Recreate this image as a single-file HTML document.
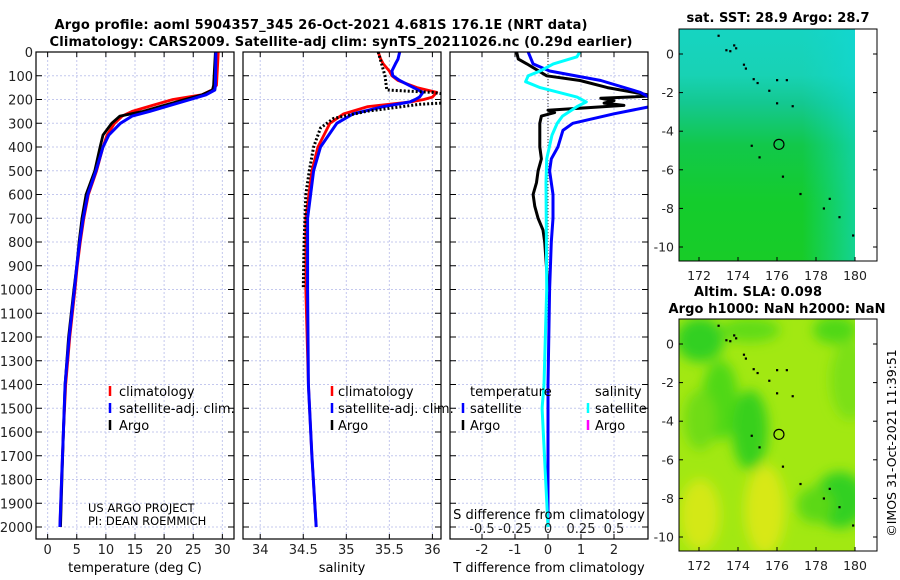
<!DOCTYPE html>
<html><head><meta charset="utf-8"><style>
html,body{margin:0;padding:0;background:#fff}
svg{display:block;font-family:"DejaVu Sans","Liberation Sans",sans-serif}
</style></head><body>
<svg id="fig" width="900" height="580" viewBox="0 0 900 580" xmlns="http://www.w3.org/2000/svg">
<defs>
<linearGradient id="sstg" x1="0" y1="0" x2="0" y2="1">
<stop offset="0" stop-color="#16d4c2"/><stop offset="0.2" stop-color="#18d2b4"/><stop offset="0.32" stop-color="#14c890"/><stop offset="0.5" stop-color="#12c84a"/><stop offset="0.75" stop-color="#14cc2c"/><stop offset="1" stop-color="#18cc28"/>
</linearGradient>
<linearGradient id="sstg2" x1="0" y1="0" x2="1" y2="0">
<stop offset="0" stop-color="#18d0a0" stop-opacity="0"/><stop offset="0.7" stop-color="#10d8d0" stop-opacity="0"/><stop offset="1" stop-color="#10d8d8" stop-opacity="0.6"/>
</linearGradient>
<filter id="blur" x="-0.3" y="-0.3" width="1.6" height="1.6"><feGaussianBlur stdDeviation="6"/></filter>
<clipPath id="m1c"><rect x="679" y="29" width="176" height="232"/></clipPath>
<clipPath id="m2c"><rect x="679" y="319" width="176" height="232"/></clipPath>
<clipPath id="p1c"><rect x="36" y="52" width="198" height="487"/></clipPath>
<clipPath id="p2c"><rect x="243" y="52" width="198" height="487"/></clipPath>
<clipPath id="p3c"><rect x="450" y="52" width="198" height="487"/></clipPath>
</defs>

<text x="321" y="29" font-size="13" font-weight="bold" text-anchor="middle" textLength="533">Argo profile: aoml 5904357_345 26-Oct-2021 4.681S 176.1E (NRT data)</text>
<text x="341" y="46" font-size="13" font-weight="bold" text-anchor="middle" textLength="583">Climatology: CARS2009. Satellite-adj clim: synTS_20211026.nc (0.29d earlier)</text>

<g id="grids"></g>
<g id="series"></g>
<g id="axes"></g>

<!-- legends -->
<g font-size="13">
<line x1="110" y1="386" x2="110" y2="396" stroke="#f00" stroke-width="2.5"/><text x="119" y="396">climatology</text>
<line x1="110" y1="403" x2="110" y2="413" stroke="#00f" stroke-width="2.5"/><text x="119" y="413">satellite-adj. clim.</text>
<line x1="110" y1="420" x2="110" y2="430" stroke="#000" stroke-width="2.5"/><text x="119" y="430">Argo</text>
</g>
<g font-size="13">
<line x1="332" y1="386" x2="332" y2="396" stroke="#f00" stroke-width="2.5"/><text x="338" y="396">climatology</text>
<line x1="332" y1="403" x2="332" y2="413" stroke="#00f" stroke-width="2.5"/><text x="338" y="413">satellite-adj. clim.</text>
<line x1="332" y1="420" x2="332" y2="430" stroke="#000" stroke-width="2.5"/><text x="338" y="430">Argo</text>
</g>
<g font-size="13">
<text x="470" y="396">temperature</text><text x="595" y="396">salinity</text>
<line x1="463" y1="403" x2="463" y2="413" stroke="#00f" stroke-width="2.5"/><text x="470" y="413">satellite</text>
<line x1="463" y1="420" x2="463" y2="430" stroke="#000" stroke-width="2.5"/><text x="470" y="430">Argo</text>
<line x1="588" y1="403" x2="588" y2="413" stroke="#0ff" stroke-width="2.5"/><text x="595" y="413">satellite</text>
<line x1="588" y1="420" x2="588" y2="430" stroke="#f0f" stroke-width="2.5"/><text x="595" y="430">Argo</text>
</g>
<text x="88" y="512" font-size="11.5">US ARGO PROJECT</text>
<text x="88" y="525" font-size="11.5">PI: DEAN ROEMMICH</text>

<text x="135" y="572" font-size="13" text-anchor="middle">temperature (deg C)</text>
<text x="342" y="572" font-size="13" text-anchor="middle">salinity</text>
<text x="549" y="572" font-size="13" text-anchor="middle">T difference from climatology</text>
<text x="549" y="519" font-size="13" text-anchor="middle">S difference from climatology</text>

<!-- Map 1: SST -->
<g>
<rect x="679" y="29" width="176" height="232" fill="url(#sstg)"/>
<rect x="679" y="29" width="176" height="232" fill="url(#sstg2)"/>
<g id="coast1" clip-path="url(#m1c)"></g>
<rect x="679" y="29" width="198" height="232" fill="none" stroke="#000" stroke-width="1"/>
</g>
<text x="778" y="22" font-size="13" font-weight="bold" text-anchor="middle" textLength="183">sat. SST: 28.9 Argo: 28.7</text>

<!-- Map 2: SLA -->
<g>
<rect x="679" y="319" width="176" height="232" fill="#a2e812"/>
<g clip-path="url(#m2c)" filter="url(#blur)">
<ellipse cx="700" cy="340" rx="24" ry="22" fill="#30d020"/>
<ellipse cx="750" cy="330" rx="30" ry="12" fill="#60dc18"/>
<ellipse cx="835" cy="330" rx="22" ry="14" fill="#50d818"/>
<ellipse cx="720" cy="400" rx="18" ry="40" fill="#50d818"/>
<ellipse cx="750" cy="430" rx="18" ry="40" fill="#38d01a"/>
<ellipse cx="700" cy="420" rx="16" ry="30" fill="#70dc14"/>
<ellipse cx="840" cy="500" rx="26" ry="28" fill="#30d020"/>
<ellipse cx="815" cy="505" rx="18" ry="18" fill="#5cd818"/>
<ellipse cx="700" cy="515" rx="20" ry="36" fill="#d4e812"/>
<ellipse cx="765" cy="510" rx="20" ry="45" fill="#d8e812"/>
<ellipse cx="850" cy="380" rx="20" ry="40" fill="#7ce014"/>
</g>
<g id="coast2" clip-path="url(#m2c)"></g>
<rect x="679" y="319" width="198" height="232" fill="none" stroke="#000" stroke-width="1"/>
</g>
<text x="758" y="296" font-size="13" font-weight="bold" text-anchor="middle" textLength="128">Altim. SLA: 0.098</text>
<text x="777" y="313" font-size="13" font-weight="bold" text-anchor="middle" textLength="217">Argo h1000: NaN h2000: NaN</text>
<g id="mapaxes"></g>
<text transform="translate(896,443) rotate(-90)" font-size="12.5" text-anchor="middle">©IMOS 31-Oct-2021 11:39:51</text>
</svg>
<script>
// ---- data ----
const tempDepths = [0,140,160,180,200,225,250,270,300,350,400,500,600,700,800,900,1000,1200,1400,1600,1800,2000];
const tempArgo   = [28.8,28.5,28.3,26.5,23.6,20,16.4,12.4,11,9.5,9,8.1,6.6,5.9,5.4,5,4.5,3.6,3.0,2.7,2.45,2.2];
const tempClim   = [29.3,29.0,28.2,26.5,21.5,18,14.5,12.8,11.5,10.2,9.5,8.4,7.0,6.2,5.6,5.1,4.7,3.8,3.1,2.7,2.4,2.1];
const tempSat    = [28.9,28.8,28.7,27.2,24.5,21,17.5,14.5,12.5,10.5,9.5,8.3,6.9,6.1,5.5,5.0,4.6,3.7,3.0,2.7,2.4,2.1];
const salDepths  = [0,30,50,80,100,120,150,170,190,200,210,230,260,300,400,500,700,1000,1400,1700,2000];
const salClim    = [35.37,35.40,35.43,35.50,35.53,35.60,35.82,36.05,36.0,35.9,35.75,35.25,34.97,34.81,34.67,34.6,34.53,34.53,34.56,34.6,34.65];
const salSat     = [35.62,35.60,35.57,35.53,35.54,35.62,35.78,35.89,35.85,35.80,35.74,35.43,35.08,34.89,34.7,34.62,34.55,34.55,34.56,34.6,34.65];
const argoSalDepths = [0,100,160,170,180,200,215,220,250,280,320,400,500,600,800,990];
const salArgo    = [35.37,35.45,35.47,36.0,36.2,36.2,36.1,35.85,35.23,34.85,34.7,34.62,34.57,34.53,34.51,34.5];
const dtArgoDepths = [0,30,50,100,120,150,165,185,195,205,215,225,245,255,270,300,400,450,500,550,600,650,700,750,800,900,1000];
const dtArgo     = [-0.95,-0.9,-0.64,-0.04,0.97,1.8,2.4,3.2,1.6,2.0,1.7,2.3,0.0,0.2,-0.2,-0.25,-0.25,-0.2,-0.3,-0.35,-0.45,-0.4,-0.3,-0.15,-0.1,-0.05,0.0];
const dtSatDepths = [0,50,80,120,170,200,230,260,300,330,400,450,500,600,700,800,1000,1400,2000];
const dtSat      = [-0.6,-0.45,0.05,1.6,2.8,3.2,3.1,2.0,0.75,0.45,0.3,0.1,0.05,0.15,0.15,0.1,0.05,0.0,0.0];
const dsSatDepths = [0,20,50,80,100,125,150,190,210,230,270,300,350,450,550,1000,1400,1500,2000];
const dsSat      = [0.24,0.22,0.04,-0.06,-0.15,-0.17,-0.06,0.22,0.29,0.22,0.11,0.07,0.03,-0.01,-0.015,-0.01,-0.03,-0.045,0.0];
const depthTicks = [0,100,200,300,400,500,600,700,800,900,1000,1100,1200,1300,1400,1500,1600,1700,1800,1900,2000];
const tempTicks = [0,5,10,15,20,25,30];
const salTicks = [34,34.5,35,35.5,36];
const dtTicks = [-2,-1,0,1,2];
const dsTicks = [-0.5,-0.25,0,0.25,0.5];
const dsTickLabels = ['-0.5','-0.25','0','0.25','0.5'];
const lonTicks = [172,174,176,178,180];
const latTicks = [0,-2,-4,-6,-8,-10];
const profileLon = 176.1, profileLat = -4.681;
const coastLon = [173.0,173.4,173.6,173.8,173.9,174.3,174.4,174.8,175.0,175.6,176.0,176.5,176.0,176.8,174.7,175.1,176.3,177.2,178.4,178.7,179.2,179.9];
const coastLat = [0.95,0.2,0.15,0.45,0.3,-0.55,-0.75,-1.3,-1.5,-1.9,-1.35,-1.35,-2.55,-2.7,-4.75,-5.35,-6.35,-7.25,-8.0,-7.5,-8.45,-9.4];

// ---- scales ----
const yD = d => 52 + d*0.2375;
const xT = t => 36 + (t+2)*198/34;
const xS = s => 243 + (s-33.8)*198/2.3;
const xDT = v => 548 + v*33;
const xDS = v => 548 + v*132;
const mxLon = lon => 699 + (lon-172)*19.5;
const myLat1 = lat => 54 + (-lat)*19.3;
const myLat2 = lat => 344 + (-lat)*19.3;

const NS='http://www.w3.org/2000/svg';
function mk(tag, parent){const e=document.createElementNS(NS,tag);parent.appendChild(e);return e;}
const grids=document.getElementById('grids'), series=document.getElementById('series'), axes=document.getElementById('axes');

const panels=[{x:36,c:'p1c',n:'temperature'},{x:243,c:'p2c',n:'salinity'},{x:450,c:'p3c',n:'difference'}];
// grids & axes
panels.forEach((p,pi)=>{
  const xt = pi===0? tempTicks.map(xT) : pi===1? salTicks.map(xS) : dtTicks.map(xDT);
  xt.forEach(x=>{const l=mk('line',grids);
    
    
    l.setAttribute('x1',x);l.setAttribute('x2',x);l.setAttribute('y1',52);l.setAttribute('y2',539);
    l.setAttribute('stroke','#c4c8ee');l.setAttribute('stroke-dasharray','2,2');l.setAttribute('stroke-width','1');
    const t1=mk('line',axes);t1.setAttribute('x1',x);t1.setAttribute('x2',x);t1.setAttribute('y1',539);t1.setAttribute('y2',534);t1.setAttribute('stroke','#000');
    const t2=mk('line',axes);t2.setAttribute('x1',x);t2.setAttribute('x2',x);t2.setAttribute('y1',52);t2.setAttribute('y2',57);t2.setAttribute('stroke','#000');
  });
  depthTicks.forEach(d=>{const y=yD(d);const l=mk('line',grids);
    
    
    l.setAttribute('x1',p.x);l.setAttribute('x2',p.x+198);l.setAttribute('y1',y);l.setAttribute('y2',y);
    l.setAttribute('stroke','#c4c8ee');l.setAttribute('stroke-dasharray','2,2');
    const t1=mk('line',axes);t1.setAttribute('x1',p.x);t1.setAttribute('x2',p.x+6);t1.setAttribute('y1',y);t1.setAttribute('y2',y);t1.setAttribute('stroke','#000');
    const t2=mk('line',axes);t2.setAttribute('x1',p.x+198);t2.setAttribute('x2',p.x+192);t2.setAttribute('y1',y);t2.setAttribute('y2',y);t2.setAttribute('stroke','#000');
  });
  const r=mk('rect',axes);
  
  
  r.setAttribute('x',p.x);r.setAttribute('y',52);r.setAttribute('width',198);r.setAttribute('height',487);
  r.setAttribute('fill','none');r.setAttribute('stroke','#000');r.setAttribute('stroke-width','1.2');
});
// zero line in diff panel
{const l=mk('line',grids);


l.setAttribute('x1',xDT(0));l.setAttribute('x2',xDT(0));l.setAttribute('y1',52);l.setAttribute('y2',539);l.setAttribute('stroke','#333');l.setAttribute('stroke-dasharray','1,2');}

function label(txt,x,y,anchor,size,parent,name){const t=mk('text',parent||axes);
  
  
  t.setAttribute('x',x);t.setAttribute('y',y);t.setAttribute('text-anchor',anchor);t.setAttribute('font-size',size);t.setAttribute('fill','#222');t.textContent=txt;}
depthTicks.forEach(d=>label(String(d),33,yD(d)+5,'end',13,axes,'depth-tick-label'));
tempTicks.forEach(t=>label(String(t),xT(t),554,'middle',13,axes,'temperature-tick-label'));
salTicks.forEach(s=>label(String(s),xS(s),554,'middle',13,axes,'salinity-tick-label'));
dtTicks.forEach(v=>label(String(v),xDT(v),554,'middle',13,axes,'t-difference-tick-label'));
dsTicks.forEach((v,i)=>label(dsTickLabels[i],xDS(v),533,'middle',13,axes,'s-difference-tick-label'));

function line(xs,ds,fx,color,w,clip,name,dash){
  const pts=xs.map((v,i)=>fx(v).toFixed(1)+','+yD(ds[i]).toFixed(1)).join(' ');
  const pl=mk('polyline',series);
  
  
  pl.setAttribute('points',pts);pl.setAttribute('fill','none');pl.setAttribute('stroke',color);
  pl.setAttribute('stroke-width',w);pl.setAttribute('stroke-linejoin','round');pl.setAttribute('clip-path','url(#'+clip+')');
  if(dash)pl.setAttribute('stroke-dasharray',dash);
}
line(tempClim,tempDepths,xT,'#f00',2.8,'p1c','temperature-climatology-line');
line(tempArgo,tempDepths,xT,'#000',2.8,'p1c','temperature-argo-line');
line(tempSat,tempDepths,xT,'#00f',3,'p1c','temperature-satellite-line');
line(salClim,salDepths,xS,'#f00',2.8,'p2c','salinity-climatology-line');
line(salSat,salDepths,xS,'#00f',3,'p2c','salinity-satellite-line');
line(salArgo,argoSalDepths,xS,'#000',3,'p2c','salinity-argo-line','2,2');
line(dtArgo,dtArgoDepths,xDT,'#000',3,'p3c','t-difference-argo-line');
line(dtSat,dtSatDepths,xDT,'#00f',3,'p3c','t-difference-satellite-line');
line(dsSat,dsSatDepths,xDS,'#0ff',3,'p3c','s-difference-satellite-line');

// maps
const ma=document.getElementById('mapaxes');
[[myLat1,29,261,'coast1',280],[myLat2,319,551,'coast2',570]].forEach(([fy,top,bot,cid,ly],mi)=>{
  const cg=document.getElementById(cid);
  coastLon.forEach((lon,i)=>{const r=mk('rect',cg);
    
    
    r.setAttribute('x',mxLon(lon)-1);r.setAttribute('y',fy(coastLat[i])-1);r.setAttribute('width',2.2);r.setAttribute('height',2.2);r.setAttribute('fill','#000');});
  const c=mk('circle',cg);
  
  
  c.setAttribute('cx',mxLon(profileLon));c.setAttribute('cy',fy(profileLat));c.setAttribute('r',5);c.setAttribute('fill','none');c.setAttribute('stroke','#000');c.setAttribute('stroke-width','1.2');
  lonTicks.forEach(lon=>{const x=mxLon(lon);
    label(String(lon),x,ly,'middle',12.5,ma,'longitude-tick-label');
    const t=mk('line',ma);t.setAttribute('x1',x);t.setAttribute('x2',x);t.setAttribute('y1',bot);t.setAttribute('y2',bot-4);t.setAttribute('stroke','#000');});
  latTicks.forEach(lat=>{const y=fy(lat);
    label(String(lat),674,y+4.5,'end',12.5,ma,'latitude-tick-label');
    const t=mk('line',ma);t.setAttribute('x1',679);t.setAttribute('x2',683);t.setAttribute('y1',y);t.setAttribute('y2',y);t.setAttribute('stroke','#000');
    const t2=mk('line',ma);t2.setAttribute('x1',877);t2.setAttribute('x2',873);t2.setAttribute('y1',y);t2.setAttribute('y2',y);t2.setAttribute('stroke','#000');});
});
</script>
</body></html>
